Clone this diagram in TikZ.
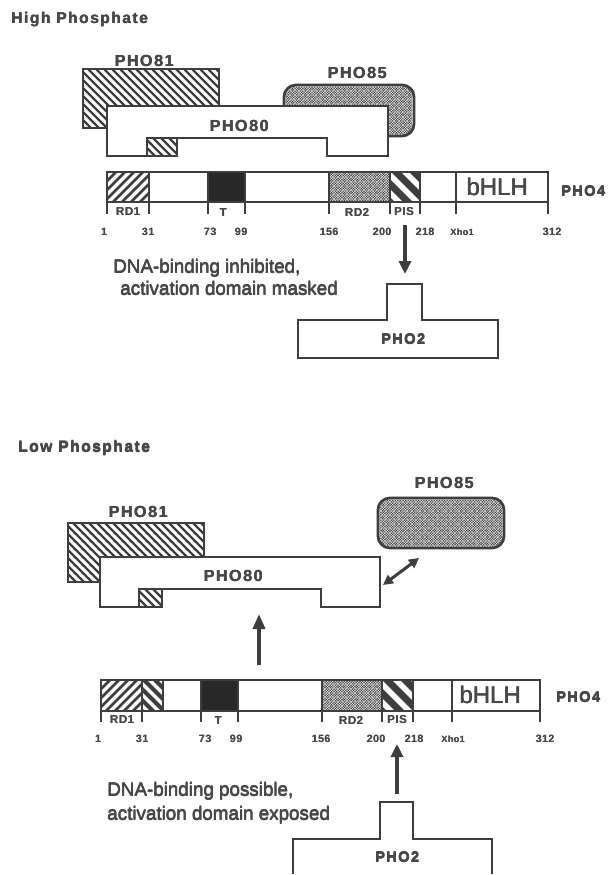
\documentclass[tikz,border=0pt]{standalone}
\usepackage{fontspec}
\setmainfont{Liberation Sans}
\newfontfamily\wide{Liberation Sans}[UprightFont={* Bold}, LetterSpace=10]
\newfontfamily\widesm{Liberation Sans}[UprightFont={* Bold}, LetterSpace=5]
\newfontfamily\notefont{Liberation Sans}
\newcommand{\thk}[1]{\leavevmode\rlap{\kern0.45pt #1}\rlap{\kern0.22pt\raisebox{0.25pt}{#1}}#1}
\newcommand{\thn}[1]{\leavevmode\rlap{\kern0.3pt #1}#1}
\usetikzlibrary{patterns,arrows.meta}
\definecolor{ink}{RGB}{62,62,62}
\definecolor{textc}{RGB}{72,72,72}
\definecolor{blk}{RGB}{40,40,40}
\pgfdeclarepatternformonly{dotsfine}{\pgfqpoint{-1pt}{-1pt}}{\pgfqpoint{3pt}{3pt}}{\pgfqpoint{2.6pt}{2.6pt}}{%
  \pgfpathcircle{\pgfqpoint{0pt}{0pt}}{0.85pt}%
  \pgfpathcircle{\pgfqpoint{1.3pt}{1.3pt}}{0.85pt}%
  \pgfusepath{fill}}
% "\" hatching: x1,y1,x2,y2,period,line width
\newcommand{\hatchbs}[6]{%
  \begin{scope}
    \clip (#1,#2) rectangle (#3,#4);
    \pgfmathsetmacro{\hatchH}{#4-#2}
    \pgfmathtruncatemacro{\hatchN}{ceil((#3-#1+\hatchH)/#5)+2}
    \foreach \k in {0,...,\hatchN}{%
      \pgfmathsetmacro{\hatchX}{#1-\hatchH-#5+\k*#5}
      \draw[line width=#6, draw=ink] (\hatchX-4,#2-4) -- ++(\hatchH+8,\hatchH+8);
    }
  \end{scope}}
% "/" hatching
\newcommand{\hatchfs}[6]{%
  \begin{scope}
    \clip (#1,#2) rectangle (#3,#4);
    \pgfmathsetmacro{\hatchH}{#4-#2}
    \pgfmathtruncatemacro{\hatchN}{ceil((#3-#1+\hatchH)/#5)+2}
    \foreach \k in {0,...,\hatchN}{%
      \pgfmathsetmacro{\hatchX}{#1-\hatchH-#5+\k*#5}
      \draw[line width=#6, draw=ink] (\hatchX-4,#4+4) -- ++(\hatchH+8,-\hatchH-8);
    }
  \end{scope}}
\tikzset{
  outl/.style={draw=ink, line width=2.8pt},
  ttl/.style={font=\wide\fontsize{15.5}{18}\selectfont, text=textc, inner sep=0pt},
  prot/.style={font=\wide\fontsize{16}{18}\selectfont, text=textc, inner sep=0pt},
  pfour/.style={font=\wide\fontsize{14.5}{16}\selectfont, text=textc, inner sep=0pt},
  dom/.style={font=\widesm\fontsize{11.5}{13}\selectfont, text=textc, inner sep=0pt},
  num/.style={font=\widesm\fontsize{10.5}{12}\selectfont, text=textc, inner sep=0pt},
  xho/.style={font=\widesm\fontsize{9}{10}\selectfont, text=textc, inner sep=0pt},
  bh/.style={font=\notefont\fontsize{24}{26}\selectfont, text=textc, inner sep=0pt},
  note/.style={font=\notefont\fontsize{18.8}{22}\selectfont, text=textc, inner sep=0pt, anchor=base west},
  arr/.style={draw=ink, line width=3.5pt, -{Triangle[width=12pt,length=13pt]}},
  darr/.style={draw=ink, line width=3pt, {Triangle[width=10pt,length=10pt]}-{Triangle[width=10pt,length=10pt]}},
}
\begin{document}
\begin{tikzpicture}[x=1pt,y=-1pt]
\useasboundingbox (0,0) rectangle (610,875);
\fill[white] (0,0) rectangle (610,875);

%================ HIGH PHOSPHATE ================
\node[ttl, anchor=base west] (hiT) at (11,24) {\thk{High Phosphate}};

% PHO81
\hatchbs{83}{69}{219}{128}{8}{2.4pt}
\draw[outl] (83,69) rectangle (219,128);
\node[prot] (h81) at (144,61) {\thk{PHO81}};
% PHO85
\draw[outl, rounded corners=12pt, fill=white] (284,85) rectangle (414,136);
\fill[pattern=dotsfine, pattern color=ink, rounded corners=11pt] (285.5,86.5) rectangle (412.5,134.5);
\node[prot] (h85) at (357,73) {\thk{PHO85}};
% PHO80
\draw[outl, fill=white] (107,106) -- (388,106) -- (388,156) -- (327,156) -- (327,138) -- (147,138) -- (147,156) -- (107,156) -- cycle;
\hatchbs{147}{138}{177}{156}{8}{2.4pt}
\draw[outl] (147,138) rectangle (177,156);
\node[prot] (h80) at (239,126) {\thk{PHO80}};

% PHO4 bar (top)
\fill[white] (107,172) rectangle (548,202);
\hatchfs{107}{172}{149}{202}{9}{2.8pt}
\fill[blk] (208,172) rectangle (245,202);
\fill[pattern=dotsfine, pattern color=ink] (329,172) rectangle (390,202);
\hatchbs{390}{172}{420}{202}{18}{7pt}
\draw[outl] (107,172) rectangle (548,202);
\foreach \x in {107,149,208,245,329,390,420,456,548} \draw[outl] (\x,172) -- (\x,214);
\node[bh] (hbhlh) at (497,187) {\thk{bHLH}};
\node[pfour] (hp4) at (583,191) {\thk{PHO4}};
\node[dom] (hrd1) at (128,212) {\thn{RD1}};
\node[dom] (ht) at (223,213) {\thn{T}};
\node[dom] (hrd2) at (357,212) {\thn{RD2}};
\node[dom] (hpis) at (404,212) {\thn{PIS}};
\node[num] (hn1) at (104,232) {\thn{1}};
\node[num] (hn31) at (148,232) {\thn{31}};
\node[num] (hn73) at (210,232) {\thn{73}};
\node[num] (hn99) at (241,232) {\thn{99}};
\node[num] (hn156) at (329,232) {\thn{156}};
\node[num] (hn200) at (382,232) {\thn{200}};
\node[num] (hn218) at (425,232) {\thn{218}};
\node[xho] (hxho) at (462,232) {\thn{Xho1}};
\node[num] (hn312) at (552,232) {\thn{312}};

% arrow to PHO2
\coordinate (hA) at (405,225);
\coordinate (hB) at (405,274);
\draw[arr] (hA) -- (hB);

% notes
\node[note] (hn1l) at (113,273) {\thk{DNA-binding inhibited,}};
\node[note] (hn2l) at (120,295) {\thk{activation domain masked}};

% PHO2
\draw[outl, fill=white] (298,320) -- (387,320) -- (387,284) -- (422,284) -- (422,320) -- (498,320) -- (498,358) -- (298,358) -- cycle;
\node[pfour] (h2) at (403,339) {\thk{PHO2}};

%================ LOW PHOSPHATE ================
\node[ttl, anchor=base west] (loT) at (18,452) {\thk{Low Phosphate}};

% PHO81
\hatchbs{68}{523}{204}{582}{8}{2.4pt}
\draw[outl] (68,523) rectangle (204,582);
\node[prot] (l81) at (138,512) {\thk{PHO81}};
% PHO80
\draw[outl, fill=white] (100,557) -- (380,557) -- (380,607) -- (321,607) -- (321,589) -- (139,589) -- (139,607) -- (100,607) -- cycle;
\hatchbs{139}{589}{162}{607}{8}{2.4pt}
\draw[outl] (139,589) rectangle (162,607);
\node[prot] (l80) at (233,576) {\thk{PHO80}};
% PHO85
\draw[outl, rounded corners=12pt, fill=white] (378,498) rectangle (504,548);
\fill[pattern=dotsfine, pattern color=ink, rounded corners=11pt] (379.5,499.5) rectangle (502.5,546.5);
\node[prot] (l85) at (444,483) {\thk{PHO85}};
% exchange arrow
\coordinate (lD1) at (383,585);
\coordinate (lD2) at (419,558);
\draw[darr] (lD1) -- (lD2);

% up arrow PHO4 -> PHO80
\coordinate (lU1) at (259,665);
\coordinate (lU2) at (259,614);
\draw[arr, -{Triangle[width=12pt,length=15pt]}] (lU1) -- (lU2);

% PHO4 bar (bottom)
\fill[white] (101,680) rectangle (540,711);
\hatchfs{101}{680}{142}{711}{9}{2.8pt}
\hatchbs{142}{680}{163}{711}{11}{4pt}
\fill[blk] (201,680) rectangle (238,711);
\fill[pattern=dotsfine, pattern color=ink] (322,680) rectangle (382,711);
\hatchbs{382}{680}{413}{711}{18}{7pt}
\draw[outl] (101,680) rectangle (540,711);
\draw[outl] (163,680) -- (163,711);
\foreach \x in {101,142,201,238,322,382,413,452,540} \draw[outl] (\x,680) -- (\x,722);
\node[bh] (lbhlh) at (490,695) {\thk{bHLH}};
\node[pfour] (lp4) at (578,697) {\thk{PHO4}};
\node[dom] (lrd1) at (122,720) {\thn{RD1}};
\node[dom] (lt) at (218,721) {\thn{T}};
\node[dom] (lrd2) at (351,720) {\thn{RD2}};
\node[dom] (lpis) at (397,720) {\thn{PIS}};
\node[num] (ln1) at (98,739) {\thn{1}};
\node[num] (ln31) at (142,739) {\thn{31}};
\node[num] (ln73) at (205,739) {\thn{73}};
\node[num] (ln99) at (236,739) {\thn{99}};
\node[num] (ln156) at (321,739) {\thn{156}};
\node[num] (ln200) at (376,739) {\thn{200}};
\node[num] (ln218) at (414,739) {\thn{218}};
\node[xho] (lxho) at (453,739) {\thn{Xho1}};
\node[num] (ln312) at (545,739) {\thn{312}};

% arrow PHO2 -> PIS
\coordinate (lP1) at (397,794);
\coordinate (lP2) at (397,744);
\draw[arr] (lP1) -- (lP2);

% notes
\node[note] (ln1l) at (107,796) {\thk{DNA-binding possible,}};
\node[note] (ln2l) at (107,820) {\thk{activation domain exposed}};

% PHO2 (cut off at bottom)
\draw[outl, fill=white] (293,874) -- (293,839) -- (380,839) -- (380,802) -- (413,802) -- (413,839) -- (492,839) -- (492,874);
\node[pfour] (l2) at (397,857) {\thk{PHO2}};
\end{tikzpicture}
\end{document}
